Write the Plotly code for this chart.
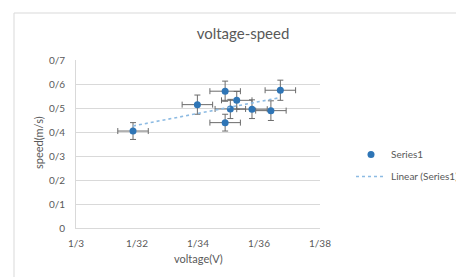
import numpy as np
import plotly.graph_objects as go

voltage = [1.3187, 1.3398, 1.3489, 1.3527, 1.3506, 1.3489, 1.3577, 1.3639, 1.3670]
speed = [0.404, 0.514, 0.570, 0.532, 0.496, 0.439, 0.495, 0.489, 0.574]
speed_err = [0.035, 0.040, 0.042, 0.037, 0.040, 0.035, 0.039, 0.041, 0.042]
voltage_err = [0.005] * 9

x_tickvals = [1.30, 1.32, 1.34, 1.36, 1.38]
x_ticktext = ["1/3", "1/32", "1/34", "1/36", "1/38"]
y_tickvals = [0, 0.1, 0.2, 0.3, 0.4, 0.5, 0.6, 0.7]
y_ticktext = ["0", "0/1", "0/2", "0/3", "0/4", "0/5", "0/6", "0/7"]

FONT = "Lato, 'Open Sans', sans-serif"
GRAY = "#595959"

slope, intercept = np.polyfit(voltage, speed, 1)
tx = [min(voltage), max(voltage)]
ty = [slope * v + intercept for v in tx]

fig = go.Figure()
fig.add_trace(go.Scatter(
    x=voltage, y=speed, mode="markers", name="Series1",
    marker=dict(color="#2E75B6", size=7),
    error_x=dict(type="data", array=voltage_err, color="#6b6b6b", thickness=1, width=3),
    error_y=dict(type="data", array=speed_err, color="#6b6b6b", thickness=1, width=3),
    legendgroup="a",
))
fig.add_trace(go.Scatter(
    x=tx, y=ty, mode="lines", name="Linear (Series1)",
    line=dict(color="#8dbbe3", width=1.6, dash="dot"),
    legendgroup="b",
))

L, T = 76, 60
W, H = 244, 168
def px(xp):
    return (xp - L) / W
def py(yp):
    return (T + H - yp) / H

fig.update_layout(
    width=456, height=277,
    margin=dict(l=L, r=456 - L - W, t=T, b=277 - T - H, autoexpand=False),
    paper_bgcolor="white", plot_bgcolor="white",
    font=dict(family=FONT, color=GRAY, size=10),
    title=dict(text="voltage-speed", x=243 / 456, xanchor="center",
               y=1 - 34 / 277, yanchor="middle",
               font=dict(size=15, color=GRAY, family=FONT)),
    xaxis=dict(range=[1.30, 1.38], tickvals=x_tickvals, ticktext=x_ticktext,
               showgrid=False, zeroline=False, showline=True, linecolor="#d9d9d9",
               linewidth=1, ticks="outside", ticklen=6, tickcolor="rgba(0,0,0,0)",
               tickfont=dict(size=10, color=GRAY), automargin=False),
    yaxis=dict(range=[0, 0.7], tickvals=y_tickvals, ticktext=y_ticktext,
               showgrid=True, gridcolor="#d9d9d9", gridwidth=1, zeroline=False,
               showline=True, linecolor="#d9d9d9", linewidth=1,
               ticks="outside", ticklen=8, tickcolor="rgba(0,0,0,0)",
               tickfont=dict(size=10, color=GRAY), automargin=False),
    legend=dict(x=px(351), y=py(140), xanchor="left", yanchor="top",
                font=dict(size=10, color=GRAY), traceorder="grouped",
                tracegroupgap=3, bgcolor="rgba(0,0,0,0)"),
    showlegend=True,
    annotations=[
        dict(text="voltage(V)", xref="paper", yref="paper", x=px(198), y=py(258),
             xanchor="center", yanchor="middle", showarrow=False,
             font=dict(size=11, color=GRAY)),
        dict(text="speed(m/s)", xref="paper", yref="paper", x=px(38), y=py(143),
             xanchor="center", yanchor="middle", showarrow=False, textangle=-90,
             font=dict(size=11, color=GRAY)),
    ],
    shapes=[
        dict(type="line", xref="paper", yref="paper", x0=px(14), x1=px(456),
             y0=py(13), y1=py(13), line=dict(color="#d9d9d9", width=1)),
        dict(type="line", xref="paper", yref="paper", x0=px(14), x1=px(14),
             y0=py(13), y1=py(277), line=dict(color="#d9d9d9", width=1)),
    ],
)

fig.write_html("out.html", config={"displayModeBar": False},
               post_script="document.body.style.margin='0';")
